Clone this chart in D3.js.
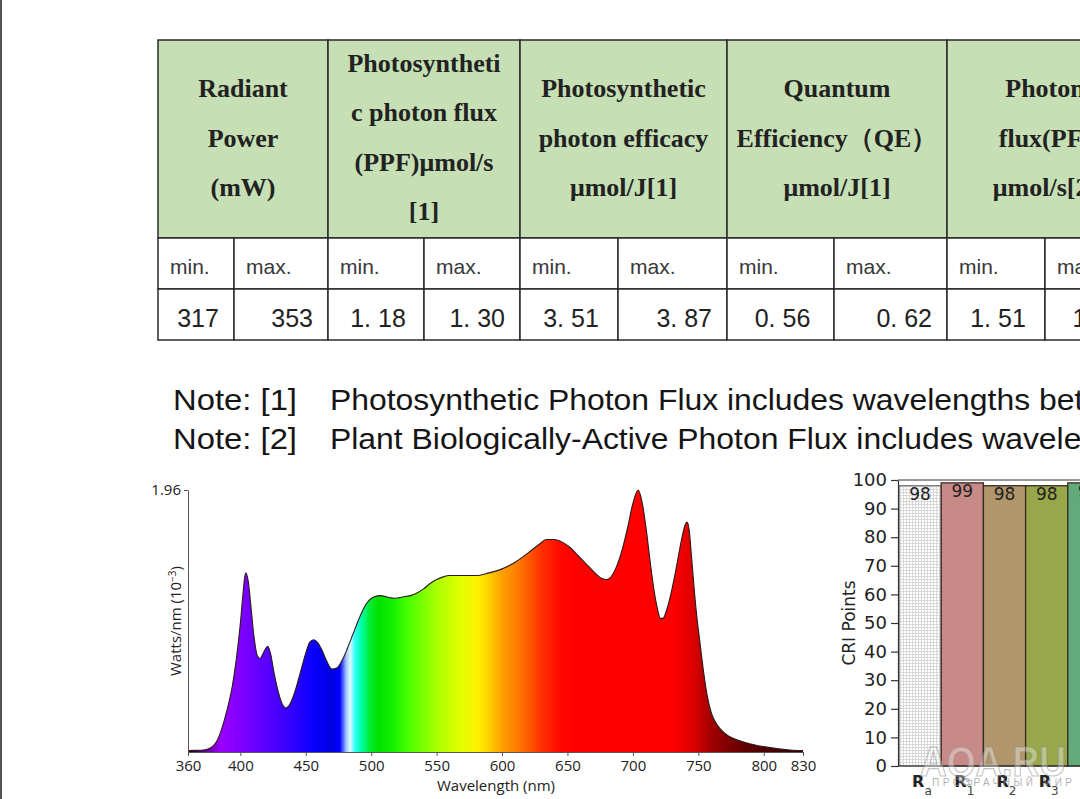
<!DOCTYPE html>
<html><head><meta charset="utf-8">
<script src="https://cdn.jsdelivr.net/npm/d3@7"></script>
<style>body{margin:0;background:#fff}svg{display:block}</style>
</head><body>
<svg id="c" width="1080" height="799"></svg>
<script>
// ---------- data ----------
const headerLines = [
  ["Radiant","Power","(mW)"],
  ["Photosyntheti","c photon flux","(PPF)\u03bcmol/s","[1]"],
  ["Photosynthetic","photon efficacy","\u03bcmol/J[1]"],
  ["Quantum","Efficiency\uff08QE\uff09","\u03bcmol/J[1]"],
  ["Photon","flux(PF)","\u03bcmol/s[2]"]
];
const subHeaders = ["min.","max."];
const minValues = ["317","1. 18","3. 51","0. 56","1. 51"];
const maxValues = ["353","1. 30","3. 87","0. 62","1. 67"];
const noteLabels = ["Note: [1]","Note: [2]"];
const noteTexts = ["Photosynthetic Photon Flux includes wavelengths between 400 and 700 nm",
                   "Plant Biologically-Active Photon Flux includes wavelengths between 280 and 800 nm"];

const wavelengths = [360,366,372,377,382,386,390,394,397,400,402,404,406,408,410,413,415,418,421,423,426,429,432,435,438,442,446,450,453,456,459,462,466,470,474,478,482,486,490,494,498,502,507,512,518,524,530,535,540,545,550,555,560,570,580,590,600,610,620,628,634,640,646,652,658,664,670,676,680,684,688,692,696,700,704,707,710,713,716,719,721,723,726,729,733,737,740,741.5,743,745,747,749,751,754,757,760,764,768,773,780,790,800,810,820,830];
const irradiance  = [0.01,0.012,0.015,0.03,0.08,0.18,0.32,0.50,0.70,0.96,1.18,1.34,1.28,1.10,0.90,0.72,0.70,0.75,0.79,0.74,0.58,0.45,0.36,0.33,0.36,0.46,0.60,0.74,0.82,0.84,0.82,0.77,0.68,0.62,0.63,0.69,0.78,0.88,0.98,1.07,1.13,1.16,1.17,1.16,1.15,1.16,1.17,1.19,1.22,1.26,1.29,1.31,1.32,1.32,1.32,1.34,1.37,1.42,1.49,1.55,1.59,1.59,1.57,1.53,1.47,1.41,1.35,1.30,1.29,1.32,1.40,1.52,1.68,1.86,1.96,1.87,1.68,1.44,1.22,1.06,1.00,1.00,1.07,1.18,1.37,1.58,1.70,1.72,1.66,1.44,1.20,1.00,0.84,0.60,0.41,0.29,0.21,0.16,0.12,0.09,0.06,0.04,0.025,0.015,0.01];
const wlTicks = [360,400,450,500,550,600,650,700,750,800,830];
const yTicks = [1.96];
const gradWl = [360,375,385,400,420,440,455,470,476,481,484,487,492,498,505,515,530,550,570,582,590,600,615,630,645,655,730,745,760,785,830];
const gradCol = ["#1a0020","#6a00a0","#9a00ff","#8000ff","#5a00ff","#3000ff","#0a00ff","#0000e0","#0000ff","#a0c8ff","#e0f8ff","#40ffff","#00ffb0","#00f040","#00e000","#10f000","#50ff00","#a8ff00","#e8ff00","#ffee00","#ffd000","#ffa000","#ff7000","#ff3000","#ff0800","#ff0000","#ff0000","#e00000","#a00000","#600000","#300000"];

const criCategories = ["a","1","2","3","4"];
const criValues = [98,99,98,98,99];
const criColors = ["url(#dots)","#c88a86","#b0966a","#97a74a","#62aa7a"];
const criTicks = [0,10,20,30,40,50,60,70,80,90,100];

// ---------- drawing ----------
const svg = d3.select("#c");
svg.append("rect").attr("width",1080).attr("height",799).attr("fill","#fff");
svg.append("line").attr("x1",1).attr("x2",1).attr("y1",0).attr("y2",799).attr("stroke","#555").attr("stroke-width",2);

// table
const groupEdges = [158,328,520,727,947,1143];
const subSplit = [76,96,98,107,98];
const tTop = 40, tHead = 238, tSub = 289, tBot = 340;
const tbl = svg.append("g");
headerLines.forEach((lines,i) => {
  const x0 = groupEdges[i], x1 = groupEdges[i+1], xm = (x0+x1)/2;
  tbl.append("rect").attr("x",x0).attr("y",tTop).attr("width",x1-x0).attr("height",tHead-tTop)
     .attr("fill","#c6dfb4").attr("stroke","#2a2a2a").attr("stroke-width",1.5);
  const n = lines.length, sp = 49.5, cy = (tTop+tHead)/2 - (n===4?2:1.5);
  lines.forEach((t,j) => {
    tbl.append("text").attr("x",xm).attr("y",cy + (j-(n-1)/2)*sp).attr("dy","0.35em")
      .attr("text-anchor","middle").attr("font-family","Liberation Serif, serif").attr("font-weight","bold")
      .attr("font-size",26).attr("fill","#222").text(t);
  });
  const xs = [x0, x0 + subSplit[i], x1];
  [0,1].forEach(k => {
    tbl.append("rect").attr("x",xs[k]).attr("y",tHead).attr("width",xs[k+1]-xs[k]).attr("height",tSub-tHead)
      .attr("fill","#fff").attr("stroke","#2a2a2a").attr("stroke-width",1.5);
    tbl.append("rect").attr("x",xs[k]).attr("y",tSub).attr("width",xs[k+1]-xs[k]).attr("height",tBot-tSub)
      .attr("fill","#fff").attr("stroke","#2a2a2a").attr("stroke-width",1.5);
    tbl.append("text").attr("x",xs[k]+12).attr("y",274).attr("font-family","Liberation Sans, Arial, sans-serif")
      .attr("font-size",21).attr("fill","#383838").text(subHeaders[k]);
  });
  tbl.append("text").attr("x",(xs[0]+xs[1])/2+2).attr("y",327).attr("text-anchor","middle")
    .attr("font-family","Liberation Sans, Arial, sans-serif").attr("font-size",25).attr("fill","#222").text(minValues[i]);
  tbl.append("text").attr("x",xs[2]-15).attr("y",327).attr("text-anchor","end")
    .attr("font-family","Liberation Sans, Arial, sans-serif").attr("font-size",25).attr("fill","#222").text(maxValues[i]);
});

// notes
noteLabels.forEach((t,i) => {
  svg.append("text").attr("x",173).attr("y",410+i*39).attr("textLength",124).attr("lengthAdjust","spacingAndGlyphs")
    .attr("font-family","Liberation Sans, Arial, sans-serif").attr("font-size",29).attr("fill","#151515").text(t);
  svg.append("text").attr("transform",`translate(330,${410+i*39}) scale(1.1,1)`)
    .attr("font-family","Liberation Sans, Arial, sans-serif")
    .attr("font-size",29).attr("fill","#151515").text(noteTexts[i]);
});

// spectrum
const x = d3.scaleLinear().domain([360,830]).range([188,803]);
const y = d3.scaleLinear().domain([0,1.96]).range([752,490]);
const defs = svg.append("defs");
const grad = defs.append("linearGradient").attr("id","spec").attr("gradientUnits","userSpaceOnUse")
  .attr("x1",x(360)).attr("x2",x(830)).attr("y1",0).attr("y2",0);
gradWl.forEach((w,i) => grad.append("stop").attr("offset",(w-360)/470).attr("stop-color",gradCol[i]));
const pts = wavelengths.map((w,i) => [w, irradiance[i]]);
const area = d3.area().x(d=>x(d[0])).y0(y(0)).y1(d=>y(d[1])).curve(d3.curveMonotoneX);
const line = d3.line().x(d=>x(d[0])).y(d=>y(d[1])).curve(d3.curveMonotoneX);
svg.append("path").datum(pts).attr("d",area).attr("fill","url(#spec)");
svg.append("path").datum(pts).attr("d",line).attr("fill","none").attr("stroke","#2a1a1a").attr("stroke-width",1.1);

const xAx = svg.append("g").attr("transform",`translate(0,${y(0)})`)
  .call(d3.axisBottom(x).tickValues(wlTicks).tickSize(4).tickSizeOuter(0).tickPadding(4));
const yAx = svg.append("g").attr("transform",`translate(${x(360)},0)`)
  .call(d3.axisLeft(y).tickValues(yTicks).tickFormat(d3.format(".2f")).tickSize(4).tickSizeOuter(0).tickPadding(3));
[xAx,yAx].forEach(g => {
  g.selectAll("path,line").attr("stroke","#555");
  g.selectAll("text").attr("font-family","Open Sans, sans-serif").attr("font-size",15).attr("fill","#222");
});
svg.append("text").attr("x",496).attr("y",791).attr("text-anchor","middle").attr("font-family","Open Sans, sans-serif")
  .attr("font-size",15).attr("fill","#222").text("Wavelength (nm)");
const yl = svg.append("text").attr("transform","translate(181,621) rotate(-90)").attr("text-anchor","middle")
  .attr("font-family","Open Sans, sans-serif").attr("font-size",15).attr("fill","#222");
yl.append("tspan").text("Watts/nm (10");
yl.append("tspan").attr("dy",-5).attr("font-size",10).text("\u22123");
yl.append("tspan").attr("dy",5).text(")");

// CRI bar chart
const pat = defs.append("pattern").attr("id","dots").attr("width",3).attr("height",3).attr("patternUnits","userSpaceOnUse");
pat.append("rect").attr("width",3).attr("height",3).attr("fill","#fff");
pat.append("rect").attr("width",3).attr("height",1).attr("fill","#d8d8d8");
pat.append("rect").attr("width",1).attr("height",3).attr("fill","#d8d8d8");
const xb = d3.scaleBand().domain(criCategories).range([899,1110]).padding(0);
const yb = d3.scaleLinear().domain([0,100]).range([766,480]);
svg.append("line").attr("x1",898).attr("x2",1080).attr("y1",yb(100)).attr("y2",yb(100)).attr("stroke","#333").attr("stroke-width",1.2);
svg.selectAll(".bar").data(criCategories).enter().append("rect")
  .attr("x",d=>xb(d)).attr("y",(d,i)=>yb(criValues[i])).attr("width",xb.bandwidth())
  .attr("height",(d,i)=>yb(0)-yb(criValues[i])).attr("fill",(d,i)=>criColors[i])
  .attr("stroke",(d,i)=> i===0 ? "#777" : "#3a2a20").attr("stroke-width",1.3);
svg.selectAll(".lbl").data(criCategories).enter().append("text")
  .attr("x",d=>xb(d)+xb.bandwidth()/2).attr("y",(d,i)=>yb(criValues[i])+14).attr("text-anchor","middle")
  .attr("font-family","DejaVu Sans, sans-serif").attr("font-size",17).attr("fill","#222").text((d,i)=>criValues[i]);
const byAx = svg.append("g").attr("transform","translate(898,0)")
  .call(d3.axisLeft(yb).tickValues(criTicks).tickSize(7).tickSizeOuter(0).tickPadding(4));
byAx.selectAll("path,line").attr("stroke","#333").attr("stroke-width",1.2);
byAx.selectAll("text").attr("font-family","DejaVu Sans, sans-serif").attr("font-size",18).attr("fill","#222");
svg.append("line").attr("x1",898).attr("x2",1080).attr("y1",yb(0)).attr("y2",yb(0)).attr("stroke","#333").attr("stroke-width",1.2);
svg.append("text").attr("transform","translate(855,623) rotate(-90)").attr("text-anchor","middle")
  .attr("font-family","DejaVu Sans, sans-serif").attr("font-size",17).attr("fill","#222").text("CRI Points");
criCategories.forEach(c => {
  const t = svg.append("text").attr("x",xb(c)+xb.bandwidth()/2-8).attr("y",787)
    .attr("font-family","DejaVu Sans, sans-serif").attr("fill","#222");
  t.append("tspan").attr("font-size",16).attr("font-weight","bold").text("R");
  t.append("tspan").attr("dy",8).attr("font-size",12).attr("fill","#444").text(c);
});

// watermark
svg.append("text").attr("x",920).attr("y",776).attr("textLength",146).attr("lengthAdjust","spacingAndGlyphs")
  .attr("font-family","Liberation Sans, Arial, sans-serif").attr("font-weight","bold").attr("font-size",43)
  .attr("fill","rgba(255,255,255,0.35)").attr("stroke","rgba(140,140,140,0.55)").attr("stroke-width",1.2).text("AQA.RU");
svg.append("text").attr("x",932).attr("y",786).attr("textLength",140).attr("lengthAdjust","spacing")
  .attr("font-family","Liberation Sans, Arial, sans-serif").attr("font-size",10)
  .attr("fill","rgba(140,140,140,0.7)").text("\u041f\u0420\u041e\u0417\u0420\u0410\u0427\u041d\u042b\u0419 \u041c\u0418\u0420");
</script>
</body></html>
